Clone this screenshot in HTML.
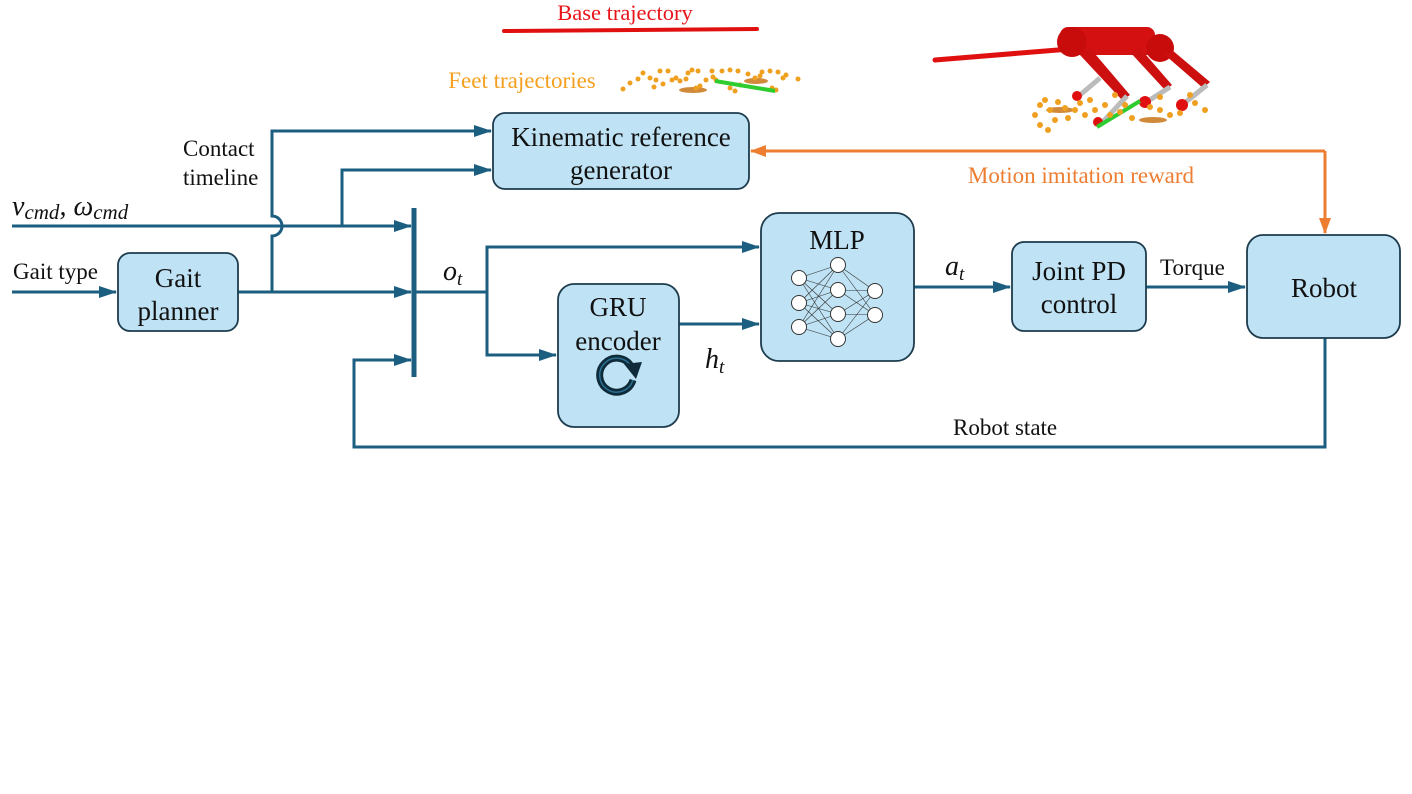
<!DOCTYPE html>
<html><head><meta charset="utf-8"><style>
html,body{margin:0;padding:0;background:#fff;width:1412px;height:794px;overflow:hidden}
text{font-family:"Liberation Serif",serif;}
</style></head><body>
<svg width="1412" height="794" viewBox="0 0 1412 794" xmlns="http://www.w3.org/2000/svg">
<defs>
<marker id="ab" viewBox="0 0 18 12" markerWidth="18" markerHeight="12" refX="17" refY="6" orient="auto" markerUnits="userSpaceOnUse"><path d="M0,0 L18,6 L0,12z" fill="#1b5e80"/></marker>
<marker id="ao" viewBox="0 0 16 12" markerWidth="16" markerHeight="12" refX="15" refY="6" orient="auto" markerUnits="userSpaceOnUse"><path d="M0,0 L16,6 L0,12z" fill="#ed7d31"/></marker>
</defs>

<!-- Base trajectory -->
<text x="625" y="20" font-size="22.5" fill="#e8141a" text-anchor="middle">Base trajectory</text>
<line x1="504" y1="31" x2="757" y2="29" stroke="#e01010" stroke-width="4" stroke-linecap="round"/>

<!-- Feet trajectories -->
<text x="522" y="88" font-size="23" fill="#f5a01e" text-anchor="middle">Feet trajectories</text>
<g fill="#f0a020">
<ellipse cx="693" cy="90" rx="14" ry="3" fill="#d08a3a"/>
<ellipse cx="756" cy="81" rx="12" ry="3" fill="#d08a3a"/>
<circle cx="623" cy="89" r="2.5"/><circle cx="630" cy="83" r="2.5"/><circle cx="638" cy="79" r="2.5"/><circle cx="643" cy="73" r="2.5"/><circle cx="650" cy="78" r="2.5"/><circle cx="656" cy="80" r="2.5"/><circle cx="660" cy="71" r="2.5"/><circle cx="654" cy="87" r="2.5"/><circle cx="663" cy="84" r="2.5"/><circle cx="668" cy="71" r="2.5"/><circle cx="672" cy="80" r="2.5"/><circle cx="676" cy="78" r="2.5"/><circle cx="680" cy="81" r="2.5"/><circle cx="688" cy="73" r="2.5"/><circle cx="692" cy="70" r="2.5"/><circle cx="698" cy="71" r="2.5"/><circle cx="696" cy="88" r="2.5"/><circle cx="700" cy="86" r="2.5"/><circle cx="706" cy="80" r="2.5"/><circle cx="713" cy="77" r="2.5"/><circle cx="716" cy="80" r="2.5"/><circle cx="722" cy="71" r="2.5"/><circle cx="730" cy="70" r="2.5"/><circle cx="738" cy="71" r="2.5"/><circle cx="730" cy="88" r="2.5"/><circle cx="735" cy="91" r="2.5"/><circle cx="740" cy="85" r="2.5"/><circle cx="748" cy="74" r="2.5"/><circle cx="755" cy="78" r="2.5"/><circle cx="760" cy="76" r="2.5"/><circle cx="762" cy="72" r="2.5"/><circle cx="770" cy="71" r="2.5"/><circle cx="778" cy="72" r="2.5"/><circle cx="783" cy="78" r="2.5"/><circle cx="786" cy="75" r="2.5"/><circle cx="798" cy="79" r="2.5"/><circle cx="772" cy="88" r="2.5"/><circle cx="776" cy="90" r="2.5"/><circle cx="686" cy="79" r="2.5"/><circle cx="712" cy="71" r="2.5"/>
</g>
<line x1="715" y1="81" x2="775" y2="91" stroke="#2ecc2e" stroke-width="4"/>

<!-- Robot illustration -->
<g>
<line x1="935" y1="60" x2="1070" y2="49" stroke="#e01010" stroke-width="5" stroke-linecap="round"/>
<rect x="1060" y="27" width="95" height="28" rx="8" fill="#d41010"/>
<circle cx="1072" cy="42" r="15" fill="#c80c0c"/>
<circle cx="1160" cy="48" r="14" fill="#c80c0c"/>
<polygon points="1080,55 1090,48 1130,95 1122,100" fill="#cc1010"/>
<polygon points="1165,55 1172,50 1210,82 1203,88" fill="#cc1010"/>
<polygon points="1130,52 1140,48 1172,85 1165,90" fill="#cc1010"/>
<line x1="1080" y1="95" x2="1100" y2="78" stroke="#bbb" stroke-width="5"/>
<line x1="1100" y1="125" x2="1127" y2="96" stroke="#bbb" stroke-width="5"/>
<line x1="1145" y1="103" x2="1170" y2="87" stroke="#bbb" stroke-width="5"/>
<line x1="1182" y1="105" x2="1207" y2="85" stroke="#bbb" stroke-width="5"/>
<circle cx="1077" cy="96" r="5" fill="#e01010"/><circle cx="1145" cy="102" r="6" fill="#e01010"/><circle cx="1182" cy="105" r="6" fill="#e01010"/><circle cx="1098" cy="122" r="5" fill="#e01010"/>
<ellipse cx="1060" cy="110" rx="14" ry="3" fill="#d08a3a"/><ellipse cx="1153" cy="120" rx="14" ry="3" fill="#d08a3a"/>
<line x1="1097" y1="127" x2="1140" y2="101" stroke="#2ecc2e" stroke-width="4"/>
<g fill="#f0a020">
<circle cx="1035" cy="115" r="3"/><circle cx="1040" cy="105" r="3"/><circle cx="1045" cy="100" r="3"/><circle cx="1050" cy="110" r="3"/><circle cx="1055" cy="120" r="3"/><circle cx="1058" cy="102" r="3"/><circle cx="1065" cy="108" r="3"/><circle cx="1068" cy="118" r="3"/><circle cx="1075" cy="110" r="3"/><circle cx="1080" cy="103" r="3"/><circle cx="1085" cy="115" r="3"/><circle cx="1090" cy="100" r="3"/><circle cx="1095" cy="110" r="3"/><circle cx="1105" cy="105" r="3"/><circle cx="1110" cy="115" r="3"/><circle cx="1120" cy="112" r="3"/><circle cx="1125" cy="105" r="3"/><circle cx="1132" cy="118" r="3"/><circle cx="1150" cy="107" r="3"/><circle cx="1160" cy="110" r="3"/><circle cx="1170" cy="115" r="3"/><circle cx="1180" cy="113" r="3"/><circle cx="1195" cy="103" r="3"/><circle cx="1205" cy="110" r="3"/><circle cx="1040" cy="125" r="3"/><circle cx="1048" cy="130" r="3"/><circle cx="1115" cy="95" r="3"/><circle cx="1160" cy="97" r="3"/><circle cx="1190" cy="95" r="3"/>
</g>
</g>

<g stroke="#1b5e80" stroke-width="3" fill="none">
<path d="M272,292 V236 a10,10 0 0 0 0,-20 V131 H491" marker-end="url(#ab)"/>
<path d="M12,226 H411" marker-end="url(#ab)"/>
<path d="M342,226 V170 H491" marker-end="url(#ab)"/>
<path d="M12,292 H116" marker-end="url(#ab)"/>
<path d="M238,292 H411" marker-end="url(#ab)"/>
<path d="M414,292 H487 V355 H556" marker-end="url(#ab)"/>
<path d="M487,292 V247 H759" marker-end="url(#ab)"/>
<path d="M679,324 H759" marker-end="url(#ab)"/>
<path d="M914,287 H1010" marker-end="url(#ab)"/>
<path d="M1146,287 H1245" marker-end="url(#ab)"/>
<path d="M1325,338 V447 H354 V360 H411" marker-end="url(#ab)"/>
</g>
<line x1="414" y1="208" x2="414" y2="377" stroke="#1b5e80" stroke-width="5"/>
<path d="M1325,151 H751" stroke="#ed7d31" stroke-width="3" fill="none" marker-end="url(#ao)"/>
<path d="M1325,151 V233" stroke="#ed7d31" stroke-width="3" fill="none" marker-end="url(#ao)"/>

<g fill="#bfe3f5" stroke="#1d3c4e" stroke-width="1.8">
<rect x="493" y="113" width="256" height="76" rx="12"/>
<rect x="118" y="253" width="120" height="78" rx="12"/>
<rect x="558" y="284" width="121" height="143" rx="16"/>
<rect x="761" y="213" width="153" height="148" rx="18"/>
<rect x="1012" y="242" width="134" height="89" rx="12"/>
<rect x="1247" y="235" width="153" height="103" rx="16"/>
</g>

<g font-size="27" fill="#111" text-anchor="middle">
<text x="621" y="146">Kinematic reference</text>
<text x="621" y="179">generator</text>
<text x="178" y="287">Gait</text>
<text x="178" y="320">planner</text>
<text x="618" y="316">GRU</text>
<text x="618" y="350">encoder</text>
<text x="837" y="249">MLP</text>
<text x="1079" y="280">Joint PD</text>
<text x="1079" y="313">control</text>
<text x="1324" y="297">Robot</text>
</g>
<g font-size="23" fill="#111">
<text x="183" y="156">Contact</text>
<text x="183" y="185">timeline</text>
<text x="13" y="279">Gait type</text>
<text x="1160" y="275">Torque</text>
<text x="953" y="435">Robot state</text>
</g>
<text x="1081" y="183" font-size="23" fill="#ed7d31" text-anchor="middle">Motion imitation reward</text>
<g font-style="italic" fill="#111">
<text x="12" y="215" font-size="28">v<tspan font-size="21" dy="4">cmd</tspan><tspan dy="-4">, ω</tspan><tspan font-size="21" dy="4">cmd</tspan></text>
<text x="443" y="280" font-size="28">o<tspan font-size="19" dy="5">t</tspan></text>
<text x="705" y="368" font-size="28">h<tspan font-size="19" dy="5">t</tspan></text>
<text x="945" y="275" font-size="28">a<tspan font-size="19" dy="5">t</tspan></text>
</g>

<path d="M617,375 m14,-9 a17,17 0 1 0 2,14" fill="none" stroke="#0f2b3a" stroke-width="7"/>
<path d="M617,375 m14,-9 a17,17 0 1 0 2,14" fill="none" stroke="#2a6f92" stroke-width="1.5"/>
<polygon points="624,364 642,362 636,379" fill="#0f2b3a"/>

<g stroke="#333" stroke-width="0.6">
<line x1="799" y1="278" x2="838" y2="265"/><line x1="799" y1="278" x2="838" y2="290"/><line x1="799" y1="278" x2="838" y2="314"/><line x1="799" y1="278" x2="838" y2="339"/>
<line x1="799" y1="303" x2="838" y2="265"/><line x1="799" y1="303" x2="838" y2="290"/><line x1="799" y1="303" x2="838" y2="314"/><line x1="799" y1="303" x2="838" y2="339"/>
<line x1="799" y1="327" x2="838" y2="265"/><line x1="799" y1="327" x2="838" y2="290"/><line x1="799" y1="327" x2="838" y2="314"/><line x1="799" y1="327" x2="838" y2="339"/>
<line x1="838" y1="265" x2="875" y2="291"/><line x1="838" y1="265" x2="875" y2="315"/>
<line x1="838" y1="290" x2="875" y2="291"/><line x1="838" y1="290" x2="875" y2="315"/>
<line x1="838" y1="314" x2="875" y2="291"/><line x1="838" y1="314" x2="875" y2="315"/>
<line x1="838" y1="339" x2="875" y2="291"/><line x1="838" y1="339" x2="875" y2="315"/>
</g>
<g fill="#fff" stroke="#333" stroke-width="1">
<circle cx="799" cy="278" r="7.5"/><circle cx="799" cy="303" r="7.5"/><circle cx="799" cy="327" r="7.5"/>
<circle cx="838" cy="265" r="7.5"/><circle cx="838" cy="290" r="7.5"/><circle cx="838" cy="314" r="7.5"/><circle cx="838" cy="339" r="7.5"/>
<circle cx="875" cy="291" r="7.5"/><circle cx="875" cy="315" r="7.5"/>
</g>
</svg>
</body></html>
